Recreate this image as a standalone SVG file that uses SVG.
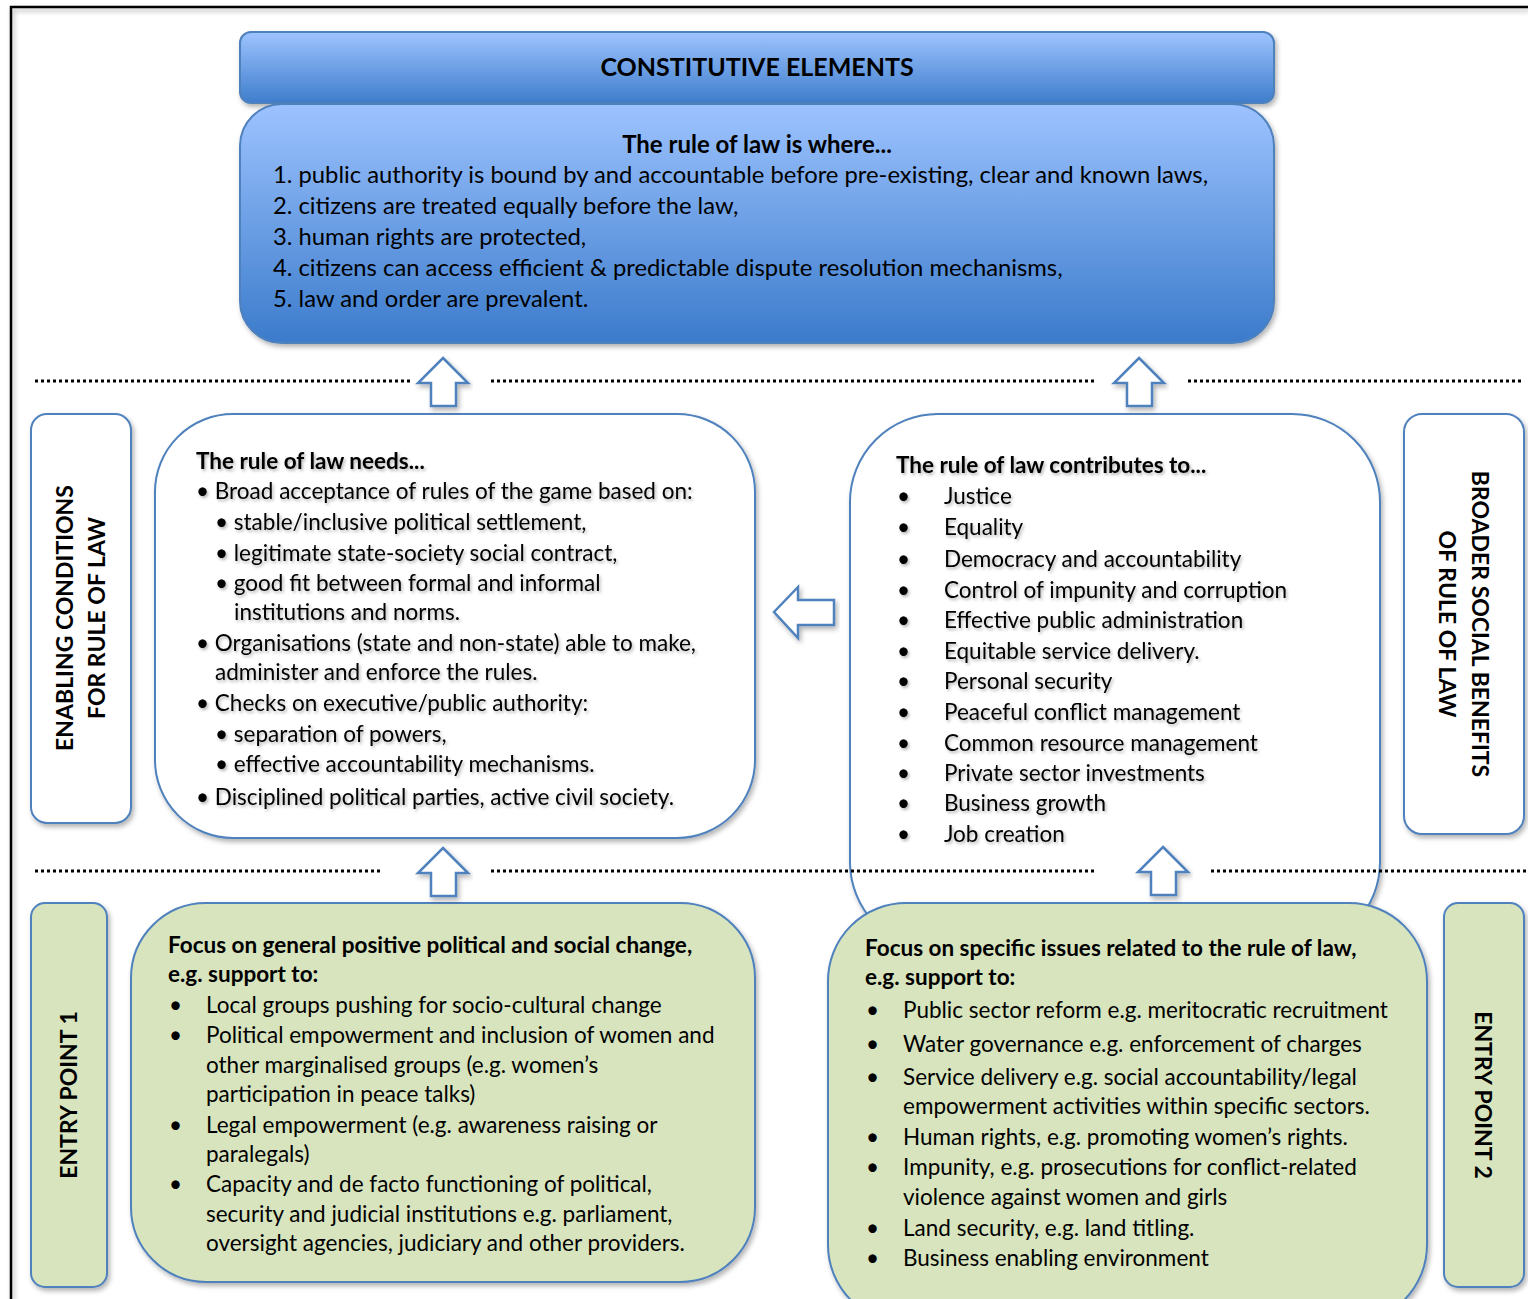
<svg xmlns="http://www.w3.org/2000/svg" width="1528" height="1299" viewBox="0 0 1528 1299">
<defs>
<linearGradient id="gHead" x1="0" y1="0" x2="0" y2="1">
<stop offset="0" stop-color="#9EC4FF"/><stop offset="1" stop-color="#3E7DCC"/>
</linearGradient>
<linearGradient id="gMain" x1="0" y1="0" x2="0" y2="1">
<stop offset="0" stop-color="#9DC3FF"/><stop offset="1" stop-color="#3B7BCB"/>
</linearGradient>
<filter id="sh" x="-10%" y="-10%" width="120%" height="130%">
<feDropShadow dx="2" dy="3" stdDeviation="2.5" flood-color="#000" flood-opacity="0.3"/>
</filter>
<filter id="tsh" x="-5%" y="-20%" width="110%" height="160%">
<feDropShadow dx="1.5" dy="2" stdDeviation="1.5" flood-color="#000" flood-opacity="0.3"/>
</filter>
<style>
.box{stroke:#4F81BD;stroke-width:2;filter:url(#sh)}
.w{fill:#fff}
.gr{fill:#D7E4BD}
.arr{fill:#fff;stroke:#4F81BD;stroke-width:2.5;stroke-linejoin:miter;filter:url(#sh)}
.dot{stroke:#000;stroke-width:3;stroke-dasharray:3 3;fill:none}
text{font-family:Lato,"Liberation Sans",sans-serif;fill:#000}
.t{font-size:22.5px}
.tl{font-size:23.8px}
.b{font-weight:bold}
.tt{font-size:22.5px;font-weight:bold}
.side{font-size:23px;font-weight:bold}
.ts{filter:url(#tsh)}
</style>
</defs>
<rect width="1528" height="1299" fill="#fff"/>
<path d="M11,1299 V7 H1528" fill="none" stroke="#000" stroke-width="2.5" filter="url(#sh)"/>

<g id="constitutive-header">
<rect class="box" x="240" y="32" width="1034" height="71" rx="11" fill="url(#gHead)" stroke="#4A7DBA"/>
<text x="757" y="76" text-anchor="middle" style="font-size:25px;font-weight:bold">CONSTITUTIVE ELEMENTS</text>
</g>

<g id="constitutive-body">
<rect class="box" x="240" y="104" width="1034" height="239" rx="42" fill="url(#gMain)" stroke="#4A7DBA"/>
<text x="757" y="153" text-anchor="middle" style="font-size:24px;font-weight:bold">The rule of law is where...</text>
<text class="tl" x="273" y="183">1. public authority is bound by and accountable before pre-existing, clear and known laws,</text>
<text class="tl" x="273" y="214">2. citizens are treated equally before the law,</text>
<text class="tl" x="273" y="245">3. human rights are protected,</text>
<text class="tl" x="273" y="276">4. citizens can access efficient &amp; predictable dispute resolution mechanisms,</text>
<text class="tl" x="273" y="307">5. law and order are prevalent.</text>
</g>

<g id="enabling-label">
<rect class="box w" x="31" y="414" width="100" height="409" rx="16"/>
<text class="side" transform="translate(73,618) rotate(-90)" text-anchor="middle">ENABLING CONDITIONS</text>
<text class="side" transform="translate(105,618) rotate(-90)" text-anchor="middle">FOR RULE OF LAW</text>
</g>

<g id="needs">
<rect class="box w" x="155" y="414" width="600" height="424" rx="78"/>
<g class="ts">
<text class="tt" x="196" y="469">The rule of law needs...</text>
<text class="t" x="196" y="499">• Broad acceptance of rules of the game based on:</text>
<text class="t" x="215" y="530">• stable/inclusive political settlement,</text>
<text class="t" x="215" y="561">• legitimate state-society social contract,</text>
<text class="t" x="215" y="591">• good fit between formal and informal</text>
<text class="t" x="234" y="620">institutions and norms.</text>
<text class="t" x="196" y="651">• Organisations (state and non-state) able to make,</text>
<text class="t" x="215" y="680">administer and enforce the rules.</text>
<text class="t" x="196" y="711">• Checks on executive/public authority:</text>
<text class="t" x="215" y="742">• separation of powers,</text>
<text class="t" x="215" y="772">• effective accountability mechanisms.</text>
<text class="t" x="196" y="805">• Disciplined political parties, active civil society.</text>
</g>
</g>

<g id="contributes">
<rect class="box w" x="850" y="414" width="530" height="536" rx="88"/>
<g class="ts">
<text class="tt" x="896" y="473">The rule of law contributes to...</text>
<g class="t">
<text x="897" y="504">•</text><text x="944" y="504">Justice</text>
<text x="897" y="535">•</text><text x="944" y="535">Equality</text>
<text x="897" y="567">•</text><text x="944" y="567">Democracy and accountability</text>
<text x="897" y="598">•</text><text x="944" y="598">Control of impunity and corruption</text>
<text x="897" y="628">•</text><text x="944" y="628">Effective public administration</text>
<text x="897" y="659">•</text><text x="944" y="659">Equitable service delivery.</text>
<text x="897" y="689">•</text><text x="944" y="689">Personal security</text>
<text x="897" y="720">•</text><text x="944" y="720">Peaceful conflict management</text>
<text x="897" y="751">•</text><text x="944" y="751">Common resource management</text>
<text x="897" y="781">•</text><text x="944" y="781">Private sector investments</text>
<text x="897" y="811">•</text><text x="944" y="811">Business growth</text>
<text x="897" y="842">•</text><text x="944" y="842">Job creation</text>
</g>
</g>
</g>

<g id="benefits-label">
<rect class="box w" x="1404" y="414" width="120" height="420" rx="18"/>
<text class="side" transform="translate(1472,624) rotate(90)" text-anchor="middle">BROADER SOCIAL BENEFITS</text>
<text class="side" transform="translate(1439,624) rotate(90)" text-anchor="middle">OF RULE OF LAW</text>
</g>

<g id="entry1-label">
<rect class="box gr" x="31" y="903" width="76" height="384" rx="14"/>
<text class="side" transform="translate(77,1095) rotate(-90)" text-anchor="middle">ENTRY POINT 1</text>
</g>

<g id="entry1">
<rect class="box gr" x="131" y="903" width="624" height="379" rx="75"/>
<text class="tt" x="168" y="953">Focus on general positive political and social change,</text>
<text class="tt" x="168" y="982">e.g. support to:</text>
<g class="t">
<text x="169" y="1013">•</text><text x="206" y="1013">Local groups pushing for socio-cultural change</text>
<text x="169" y="1043">•</text><text x="206" y="1043">Political empowerment and inclusion of women and</text>
<text x="206" y="1073">other marginalised groups (e.g. women’s</text>
<text x="206" y="1102">participation in peace talks)</text>
<text x="169" y="1133">•</text><text x="206" y="1133">Legal empowerment (e.g. awareness raising or</text>
<text x="206" y="1162">paralegals)</text>
<text x="169" y="1192">•</text><text x="206" y="1192">Capacity and de facto functioning of political,</text>
<text x="206" y="1222">security and judicial institutions e.g. parliament,</text>
<text x="206" y="1251">oversight agencies, judiciary and other providers.</text>
</g>
</g>

<g id="entry2">
<rect class="box gr" x="828" y="903" width="599" height="420" rx="78"/>
<text class="tt" x="865" y="956">Focus on specific issues related to the rule of law,</text>
<text class="tt" x="865" y="985">e.g. support to:</text>
<g class="t">
<text x="866" y="1018">•</text><text x="903" y="1018">Public sector reform e.g. meritocratic recruitment</text>
<text x="866" y="1052">•</text><text x="903" y="1052">Water governance e.g. enforcement of charges</text>
<text x="866" y="1085">•</text><text x="903" y="1085">Service delivery e.g. social accountability/legal</text>
<text x="903" y="1114">empowerment activities within specific sectors.</text>
<text x="866" y="1145">•</text><text x="903" y="1145">Human rights, e.g. promoting women’s rights.</text>
<text x="866" y="1175">•</text><text x="903" y="1175">Impunity, e.g. prosecutions for conflict-related</text>
<text x="903" y="1205">violence against women and girls</text>
<text x="866" y="1236">•</text><text x="903" y="1236">Land security, e.g. land titling.</text>
<text x="866" y="1266">•</text><text x="903" y="1266">Business enabling environment</text>
</g>
</g>

<g id="entry2-label">
<rect class="box gr" x="1444" y="903" width="80" height="384" rx="14"/>
<text class="side" transform="translate(1475,1095) rotate(90)" text-anchor="middle">ENTRY POINT 2</text>
</g>

<g id="connectors">
<line class="dot" x1="35" y1="381" x2="410" y2="381"/>
<line class="dot" x1="491" y1="381" x2="1097" y2="381"/>
<line class="dot" x1="1188" y1="381" x2="1522" y2="381"/>
<line class="dot" x1="35" y1="871" x2="383" y2="871"/>
<line class="dot" x1="491" y1="871" x2="1097" y2="871"/>
<line class="dot" x1="1211" y1="871" x2="1528" y2="871"/>
<polygon class="arr" points="443,358 468,383 456,383 456,406 431,406 431,383 418,383"/>
<polygon class="arr" points="1139,358 1164,383 1152,383 1152,406 1127,406 1127,383 1114,383"/>
<polygon class="arr" points="774,612 798,587 798,600 834,600 834,625 798,625 798,638"/>
<polygon class="arr" points="443,848 468,873 456,873 456,896 431,896 431,873 418,873"/>
<polygon class="arr" points="1163,847 1188,872 1176,872 1176,895 1151,895 1151,872 1138,872"/>
</g>
</svg>
